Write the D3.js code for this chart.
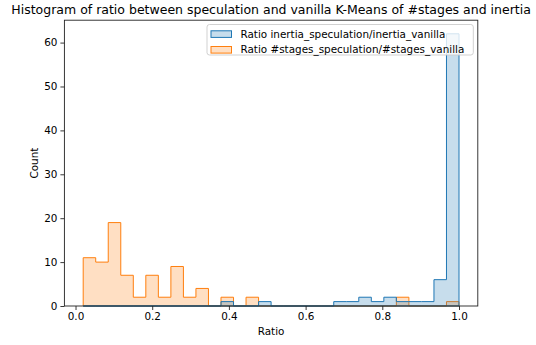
<!DOCTYPE html>
<html>
<head>
<meta charset="utf-8">
<script src="https://cdn.jsdelivr.net/npm/d3@7"></script>
<style>
  html, body { margin: 0; padding: 0; background: #fff; }
  svg { display: block; font-family: "DejaVu Sans", sans-serif; }
</style>
</head>
<body>
<svg id="chart" width="536" height="345"></svg>
<script>
// Histogram bins shared by both series
const binLow = 0.02;
const binHigh = 1.0;
const binCount = 30;

// Counts per bin
const inertiaCounts = [0,0,0,0,0,0,0,0,0,0, 0,1,0,0,1,0,0,0,0,0, 1,1,2,1,2,1,1,1,6,62];
const stagesCounts  = [11,10,19,7,2,7,2,9,2,4, 0,2,0,2,0,0,0,0,0,0, 0,0,0,0,0,2,0,0,0,1];

const seriesNames = ["Ratio inertia_speculation/inertia_vanilla", "Ratio #stages_speculation/#stages_vanilla"];
const seriesColors = ["#1f77b4", "#ff7f0e"];

const xTicks = [0.0, 0.2, 0.4, 0.6, 0.8, 1.0];
const yTicks = [0, 10, 20, 30, 40, 50, 60];

const titleText = "Histogram of ratio between speculation and vanilla K-Means of #stages and inertia";
const xLabel = "Ratio";
const yLabel = "Count";

// Layout
const plot = { left: 64.4, right: 477.8, top: 20.2, bottom: 306 };
const svg = d3.select("#chart");

const pad = (binHigh - binLow) * 0.05;
const x = d3.scaleLinear().domain([binLow - pad, binHigh + pad]).range([plot.left, plot.right]);
const yMax = d3.max([...inertiaCounts, ...stagesCounts]) * 1.05;
const y = d3.scaleLinear().domain([0, yMax]).range([plot.bottom, plot.top]);

const binWidth = (binHigh - binLow) / binCount;
const edges = d3.range(binCount + 1).map(i => binLow + i * binWidth);

function stepPoints(counts) {
  const pts = [[edges[0], 0]];
  counts.forEach((c, i) => { pts.push([edges[i], c]); pts.push([edges[i + 1], c]); });
  pts.push([edges[binCount], 0]);
  return pts;
}

const area = d3.line().x(d => x(d[0])).y(d => y(d[1]));

// Later hue level underneath, first level on top
const series = [
  { counts: stagesCounts, color: seriesColors[1] },
  { counts: inertiaCounts, color: seriesColors[0] }
];
series.forEach(s => {
  svg.append("path")
    .attr("d", area(stepPoints(s.counts)) + "Z")
    .attr("fill", s.color)
    .attr("fill-opacity", 0.25)
    .attr("stroke", s.color)
    .attr("stroke-width", 1)
    .attr("stroke-linejoin", "miter");
});

// Axes
const tickFont = 10.4;
const xAxis = svg.append("g").attr("transform", `translate(0,${plot.bottom})`)
  .call(d3.axisBottom(x).tickValues(xTicks).tickFormat(d3.format(".1f")).tickSizeInner(4).tickSizeOuter(0).tickPadding(3));
const yAxis = svg.append("g").attr("transform", `translate(${plot.left},0)`)
  .call(d3.axisLeft(y).tickValues(yTicks).tickFormat(d3.format("d")).tickSizeInner(4).tickSizeOuter(0).tickPadding(3));
[xAxis, yAxis].forEach(g => {
  g.select(".domain").remove();
  g.selectAll(".tick line").attr("stroke", "#222").attr("stroke-width", 0.9);
  g.selectAll(".tick text").attr("fill", "#000").style("font-size", tickFont + "px").style("font-family", "DejaVu Sans");
});

// Frame
svg.append("rect")
  .attr("x", plot.left).attr("y", plot.top)
  .attr("width", plot.right - plot.left).attr("height", plot.bottom - plot.top)
  .attr("fill", "none").attr("stroke", "#222").attr("stroke-width", 0.9);

// Title and labels
svg.append("text")
  .attr("x", (plot.left + plot.right) / 2).attr("y", 14)
  .attr("text-anchor", "middle").style("font-size", "12.5px")
  .text(titleText);
svg.append("text")
  .attr("x", (plot.left + plot.right) / 2).attr("y", 335)
  .attr("text-anchor", "middle").style("font-size", tickFont + "px")
  .text(xLabel);
svg.append("text")
  .attr("transform", `translate(37.5,${(plot.top + plot.bottom) / 2}) rotate(-90)`)
  .attr("text-anchor", "middle").style("font-size", tickFont + "px")
  .text(yLabel);

// Legend
const legend = { left: 207, right: 473.3, top: 24.5, bottom: 55 };
svg.append("rect")
  .attr("x", legend.left).attr("y", legend.top)
  .attr("width", legend.right - legend.left).attr("height", legend.bottom - legend.top)
  .attr("rx", 2.5).attr("fill", "#fff").attr("fill-opacity", 0.8)
  .attr("stroke", "#ccc").attr("stroke-width", 0.9);
seriesNames.forEach((name, i) => {
  const cy = 34 + i * 15.7;
  svg.append("rect")
    .attr("x", 211).attr("y", cy - 3.2).attr("width", 20.5).attr("height", 6.6)
    .attr("fill", seriesColors[i]).attr("fill-opacity", 0.25)
    .attr("stroke", seriesColors[i]).attr("stroke-width", 1);
  svg.append("text")
    .attr("x", 240.5).attr("y", cy + 3.7)
    .style("font-size", tickFont + "px")
    .text(name);
});
</script>
</body>
</html>
